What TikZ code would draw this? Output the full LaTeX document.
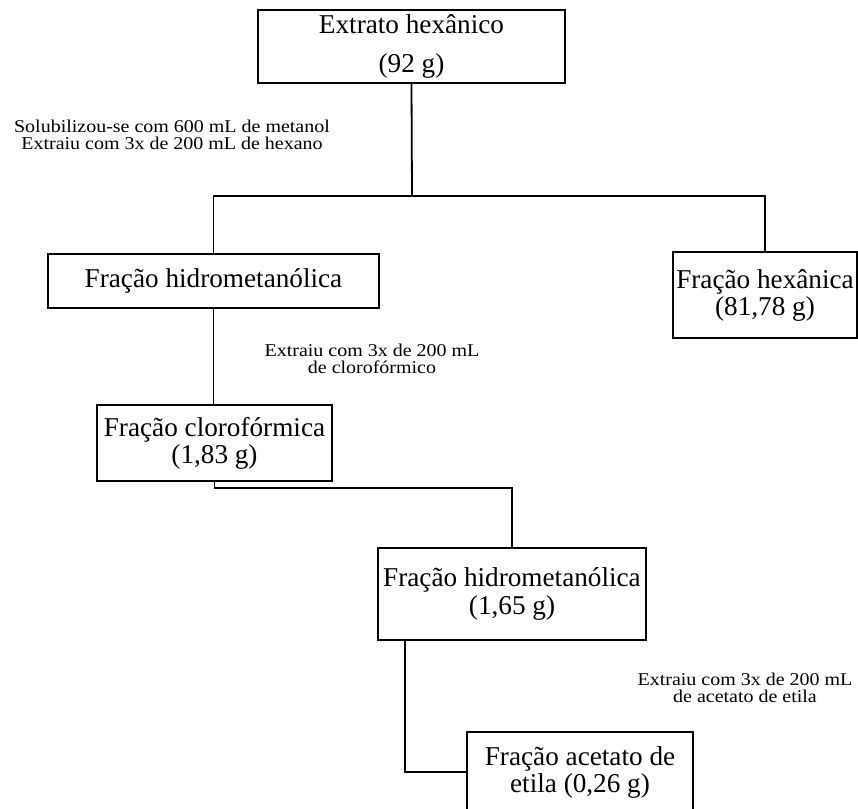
\documentclass[tikz,border=0pt]{standalone}
\usepackage{fontspec}
\setmainfont{Liberation Serif}
\newfontfamily\smallserif[FakeStretch=1.11]{Liberation Serif}
\begin{document}
\begin{tikzpicture}[x=1pt,y=-1pt, line width=1.8pt,
 box/.style={draw, inner sep=0pt, align=center, font=\fontsize{27.2}{27}\selectfont},
 note/.style={inner sep=0pt, align=center, font=\smallserif\fontsize{18}{17}\selectfont}]
\useasboundingbox (0,0) rectangle (858,808);
\node[box, minimum width=307pt, minimum height=73pt, font=\fontsize{27.2}{39}\selectfont] (b1) at (411.5,46.5) {Extrato hexânico\\(92 g)};
\node[box, minimum width=331pt, minimum height=54pt] (b2) at (213.5,281) {Fração hidrometanólica};
\node[box, minimum width=184pt, minimum height=86pt] (hex) at (765,295) {Fração hexânica\\(81,78 g)};
\node[box, minimum width=235pt, minimum height=76pt] (clo) at (214.5,443) {Fração clorofórmica\\(1,83 g)};
\node[box, minimum width=268pt, minimum height=92pt, font=\fontsize{27.2}{28}\selectfont] (hm2) at (512,594) {Fração hidrometanólica\\(1,65 g)};
\node[box, minimum width=226pt, minimum height=80pt] (ac) at (580,772) {Fração acetato de\\etila (0,26 g)};
\coordinate (j1) at (412,196);
\coordinate (j2) at (213,488);
\coordinate (j3) at (405,772);
\draw (b1.south) -- (j1);
\draw (b2.north) -- (b2.north |- j1) -- (hex.north |- j1) -- (hex.north);
\draw (b2.south) -- (b2.south |- clo.north);
\draw (clo.south) -- (clo.south |- j2) -| (hm2.north);
\draw (j3 |- hm2.south) -- (j3) -- (ac.west);
\node[note] (n1) at (172,134.5) {Solubilizou-se com 600 mL de metanol\\Extraiu com 3x de 200 mL de hexano};
\node[note] (n2) at (372,358.5) {Extraiu com 3x de 200 mL\\de clorofórmico};
\node[note] (n3) at (745,688) {Extraiu com 3x de 200 mL\\de acetato de etila};
\end{tikzpicture}
\end{document}
